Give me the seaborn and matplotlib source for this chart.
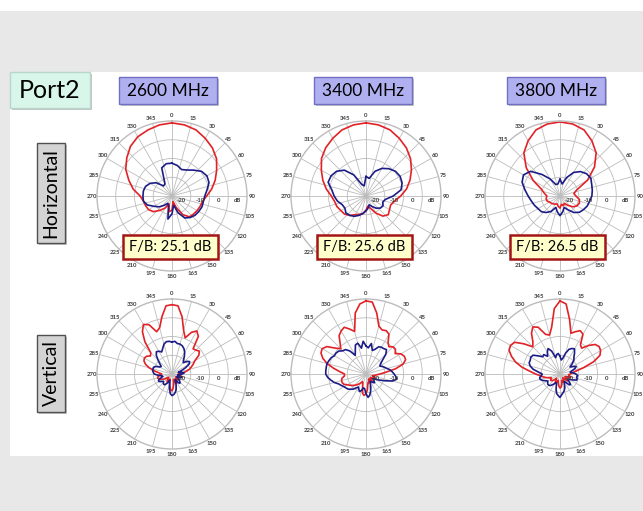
import numpy as np
import pandas as pd
import matplotlib
matplotlib.use('Agg')
import matplotlib.pyplot as plt
from matplotlib.patches import Rectangle
import seaborn as sns

W, H = 643, 511

freqs = ['2600 MHz', '3400 MHz', '3800 MHz']
fb_ratio = [25.1, 25.6, 26.5]
ring_db = [-20, -10, 0, 10]
ring_labels = ['-20', '-10', '0', 'dB']

# sampling angles (deg, clockwise from 0 at top)
ang_h = np.arange(0, 360, 10)
ang_v = np.arange(0, 360, 5)

# horizontal cuts, dB
h2600_red = [9, 8.5, 7.5, 5.5, 3.5, 1, -2.5, -5.5, -8.5, -11.5, -13.5, -14, -14.5, -15, -15.5, -18.5, -23.5, -27,
             -22.5, -21.5, -25.5, -22.5, -20, -17, -15.5, -15, -14.5, -13, -9, -5.5, -1.5, 1.5, 4.5, 6.5, 7.5, 8.5]
h2600_blue = [-12.5, -13.5, -15, -14, -12, -9.5, -8.5, -9, -11, -12.5, -13, -13, -13.5, -14, -15, -16.5, -20.5, -25,
              -20.5, -17.5, -24.5, -25.5, -23.5, -21, -19, -16, -14.5, -14.5, -14.5, -15, -16.5, -19, -23, -22.5, -14, -12.5]
h3400_red = [9, 8.5, 7.5, 5.5, 3.5, 1, -2, -5, -8, -11.5, -14.5, -16, -15.5, -14.5, -16, -19.5, -23, -24.5,
             -22.5, -20.5, -19.5, -18.5, -16.5, -15, -14.5, -13.5, -13, -11.5, -8.5, -5.5, -2.5, 1, 3.5, 5.5, 7.5, 8.5]
h3400_blue = [-19.5, -20.5, -16, -13, -11, -9.5, -9, -9.5, -11, -15.5, -19.5, -20.5, -19.5, -20, -21.5, -23.5, -25, -23.5,
              -22, -20.5, -19, -17.5, -16.5, -16, -17, -16.5, -14.5, -13, -11.5, -8.5, -8.5, -9.5, -12, -17, -23.5, -24.5]
h3800_red = [9.5, 9, 7.5, 4, 0, -6, -13, -20.5, -22.5, -21.5, -19.5, -19, -19.5, -21, -23.5, -25.5, -24.5, -25.5,
             -23.5, -24.5, -25.5, -25, -24.5, -24, -23.5, -22.5, -22.5, -23, -21.5, -19.5, -13.5, -6.5, 0, 4, 7.5, 9]
h3800_blue = [-21, -23.5, -19.5, -15.5, -13, -11.5, -11, -12, -12.5, -13, -14, -14.5, -15.5, -16.5, -18.5, -21.5, -23.5, -21.5,
              -19.5, -21.5, -23.5, -20.5, -18.5, -17, -16.5, -15.5, -14.5, -13, -11, -8.5, -7.5, -9.5, -15, -19.5, -23.5, -23.5]

# vertical cuts, dB
v2600_red = [7, 6.5, 1, -6, -9.5, -5.5, -3.5, -5.5, -12.5, -12, -11, -12.5, -16, -17.5, -19, -20.5, -22.5, -24.5,
             -26.5, -27, -25.5, -24.5, -25, -26.5, -27, -27.5, -27, -25.5, -26.5, -27, -25.5, -24.5, -25.5, -27, -25, -22.5,
             -21, -21.5, -23.5, -25.5, -27, -26.5, -25, -25.5, -27, -27.5, -27, -25.5, -24.5, -23.5, -22.5, -22, -22.5, -23.5,
             -24.5, -23, -20.5, -17.5, -15, -13.5, -13, -13.5, -15, -14, -7.5, -2.5, 0.5, -1, -6, -4.5, 1, 6.5]
v2600_blue = [-13, -12.5, -13.5, -13.5, -14, -15, -16.5, -18.5, -20.5, -21.5, -19.5, -18.5, -19.5, -22, -24.5, -26.5, -25, -23.5,
              -24.5, -26.5, -27, -25.5, -24.5, -25.5, -27, -26.5, -25, -24, -23.5, -24.5, -26.5, -25.5, -23.5, -21.5, -20, -19,
              -18.5, -19.5, -22, -25, -26.5, -25, -24, -23, -23, -23.5, -24, -23, -22, -22, -23.5, -25, -24.5, -22.5,
              -20.5, -20, -19.5, -19.5, -19.5, -20.5, -22.5, -23, -21.5, -19.5, -17, -15.5, -16, -17, -15.5, -13.5, -12.5, -12.5]
v3400_red = [9, 8.5, 3, -3.5, -5, -4.5, -5.5, -9.5, -11, -9.5, -9.5, -11, -8.5, -7.5, -7.5, -9.5, -14, -19.5,
             -22.5, -24.5, -25.5, -26.5, -25.5, -24.5, -25, -26.5, -27, -26.5, -25, -25.5, -27, -26.5, -25, -25.5, -24.5, -21.5,
             -19.5, -18.5, -19.5, -23, -25, -25.5, -24.5, -23.5, -22.5, -21.5, -20.5, -19.5, -18.5, -17, -16.5, -16.5, -17, -18.5,
             -18.5, -16, -12.5, -8.5, -5.5, -3.5, -3, -4.5, -8.5, -11, -8.5, -5, -3.5, -2.5, -4.5, -6.5, 3, 7.5]
v3400_blue = [-15, -16, -13.5, -17, -16, -14, -13.5, -13.5, -13, -15, -18.5, -20.5, -21.5, -20.5, -19.5, -18.5, -17, -16,
              -15, -14, -13.5, -15.5, -19.5, -22.5, -24.5, -25.5, -24.5, -23.5, -24, -25, -25.5, -24.5, -22.5, -20.5, -18.5, -17.5,
              -19.5, -22, -22.5, -21, -20, -21, -22, -21, -19.5, -18.5, -17.5, -17, -16.5, -15.5, -14.5, -12.5, -11, -9.5,
              -8.5, -8.5, -8.5, -8.5, -9, -9.5, -10.5, -10.5, -11, -12.5, -13, -15, -18.5, -16.5, -13.5, -13, -16, -12.5]
v3800_red = [9, 7.5, -0.5, -7.5, -6, -4.5, -5.5, -11, -12, -8.5, -5.5, -4.5, -5, -6.5, -11, -17, -21.5, -23.5,
             -24.5, -25.5, -25, -24, -24.5, -26.5, -27, -25.5, -24.5, -25, -27, -27.5, -26.5, -25, -25.5, -26.5, -24.5, -23,
             -22.5, -23.5, -25, -26.5, -25.5, -24.5, -25, -26.5, -27, -25.5, -24.5, -24, -24.5, -25, -24, -22.5, -21, -19.5,
             -17, -14, -9.5, -5.5, -2.5, 0, 0.5, -0.5, -5, -9.5, -7.5, -3.5, -1, -2.5, -7.5, -8.5, -4.5, 5]
v3800_blue = [-20.5, -22.5, -21.5, -18.5, -16, -15, -14.5, -16.5, -18.5, -19.5, -21.5, -23.5, -22, -20.5, -21.5, -23.5, -24.5, -23,
              -21.5, -20.5, -21, -20.5, -20.5, -22.5, -24.5, -25, -23.5, -22, -22.5, -24.5, -25.5, -24.5, -22.5, -21, -20, -19,
              -17.5, -18.5, -19.5, -22, -24.5, -25, -24, -23, -22, -21.5, -21.5, -22, -22.5, -21.5, -20, -19, -19, -20,
              -20.5, -18.5, -15.5, -13.5, -12.5, -12.5, -12, -12.5, -15, -17, -16.5, -18.5, -16.5, -15, -17, -21, -19.5, -19]

RED = '#e22226'
BLUE = '#1c1c86'
GRID = '#bcbcbc'
LBL = '#3c3c3c'
R = 75  # outer ring radius, px


def fx(x):
    return x / W


def fy(y):
    return 1 - y / H


def polar_panel(fig, cx, cy, ang, red, blue):
    ax = fig.add_axes([fx(cx - R), fy(cy + R), 2 * R / W, 2 * R / H], projection='polar')
    ax.set_facecolor('white')
    ax.set_theta_zero_location('N')
    ax.set_theta_direction(-1)
    for vals, col in ((red, RED), (blue, BLUE)):
        df = pd.DataFrame({'theta': np.deg2rad(np.append(ang, 360)),
                           'gain': np.append(vals, vals[0])})
        sns.lineplot(data=df, x='theta', y='gain', ax=ax, sort=False,
                     estimator=None, color=col, linewidth=1.2)
    ax.set_ylim(-30, 10)
    ax.set_yticks(ring_db[:-1])
    ax.set_yticklabels([])
    ax.set_xticks(np.deg2rad(np.arange(0, 360, 15)))
    ax.set_xticklabels([])
    ax.grid(color=GRID, linewidth=0.6)
    ax.spines['polar'].set_color(GRID)
    ax.spines['polar'].set_linewidth(1.0)
    ax.set_xlabel('')
    ax.set_ylabel('')
    # angle labels just outside the outer ring
    for a in range(0, 360, 15):
        ax.text(np.deg2rad(a), 12.8, str(a), ha='center', va='center',
                fontsize=4.3, fontweight='bold', color=LBL, clip_on=False)
    for r, lab in zip(ring_db, ring_labels):
        ax.annotate(lab, xy=(np.pi / 2, r - 5), xytext=(0, -3.5), textcoords='offset points',
                    ha='center', va='center', fontsize=4.3, fontweight='bold', color=LBL)
    return ax


def box(fig, x0, y0, x1, y1, text, fc, ec, size, lw=1.0, rot=0, z=5, shadow=False):
    if shadow:
        fig.patches.append(Rectangle((fx(x0 + 2), fy(y1 + 2)), fx(x1 - x0), (y1 - y0) / H,
                                     transform=fig.transFigure, facecolor='#c4c4c4',
                                     edgecolor='none', zorder=z - 0.5))
    fig.patches.append(Rectangle((fx(x0), fy(y1)), fx(x1 - x0), (y1 - y0) / H,
                                 transform=fig.transFigure, facecolor=fc, edgecolor=ec,
                                 linewidth=lw, zorder=z))
    fig.text(fx((x0 + x1) / 2), fy((y0 + y1) / 2), text, ha='center', va='center',
             fontsize=size, rotation=rot, color='black', zorder=z + 1)


sns.set_style('white')
plt.rcParams['font.family'] = ['Lato', 'DejaVu Sans']

fig = plt.figure(figsize=(W / 100, H / 100), dpi=100, facecolor='#e8e8e8')
fig.patches.append(Rectangle((0, fy(11)), 1, 11 / H, transform=fig.transFigure,
                             facecolor='white', edgecolor='none', zorder=-2))
fig.patches.append(Rectangle((fx(10), fy(456)), 1 - fx(10), (456 - 72) / H, transform=fig.transFigure,
                             facecolor='white', edgecolor='none', zorder=-2))

top_curves = [(h2600_red, h2600_blue), (h3400_red, h3400_blue), (h3800_red, h3800_blue)]
bot_curves = [(v2600_red, v2600_blue), (v3400_red, v3400_blue), (v3800_red, v3800_blue)]
col_x = [172, 366, 560]

for i in range(3):
    polar_panel(fig, col_x[i], 196, ang_h, *top_curves[i])
    polar_panel(fig, col_x[i], 374, ang_v, *bot_curves[i])

box(fig, 10, 72, 90, 108, 'Port2', '#d8f6ea', '#b8d6cc', 18, shadow=True)
for i, f in enumerate(freqs):
    x0 = [119, 314, 507][i]
    box(fig, x0, 77, x0 + 98, 104, f, '#b0b0f0', '#6f6fc4', 12.5, shadow=True)
    bx = [123, 317, 510][i]
    box(fig, bx, 235, bx + 95, 259, f'F/B: {fb_ratio[i]} dB', '#ffffcc', '#a31515', 10.5, lw=1.8)

box(fig, 37, 143, 65, 243, 'Horizontal', '#d4d4d4', '#505050', 14, rot=90, shadow=True)
box(fig, 37, 335, 65, 412, 'Vertical', '#d4d4d4', '#505050', 14, rot=90, shadow=True)

fig.savefig('out.png', dpi=100, facecolor=fig.get_facecolor())
